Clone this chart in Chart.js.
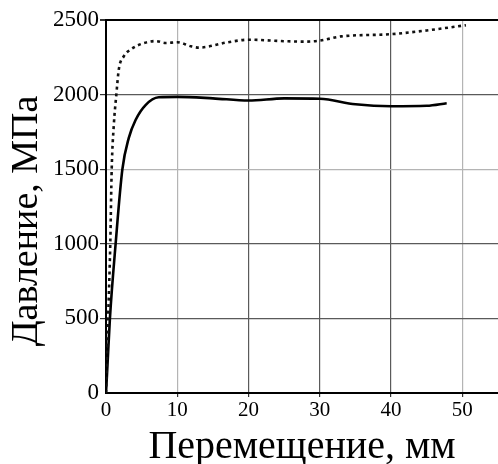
<!DOCTYPE html>
<html>
<head>
<meta charset="utf-8">
<script src="https://cdn.jsdelivr.net/npm/chart.js@4.4.1/dist/chart.umd.min.js"></script>
<style>
    html, body { margin: 0; padding: 0; background: #fff; }
    #wrap { width: 498px; height: 464px; }
</style>
</head>
<body>
<div id="wrap"><canvas id="chart-press"></canvas></div>
<script>
// displacement, mm / pressure, MPa
const solidX = [0, 0.2, 0.55, 1.35, 2.3, 3.2, 4.15, 5.55, 7.4, 10, 15, 20, 25, 30, 35, 40, 45, 47.8];
const solidY = [0, 180, 500, 1000, 1500, 1710, 1830, 1930, 1982, 1985, 1975, 1960, 1975, 1972, 1935, 1922, 1925, 1942];

const dotX = [0, 0.3, 0.6, 0.8, 1.1, 1.45, 1.8, 2.5, 3.45, 5.1, 6.95, 8.35, 10, 11.9, 13, 17, 20, 25, 28, 30, 33, 40, 45, 50.5];
const dotY = [0, 500, 1000, 1500, 1800, 2000, 2170, 2257, 2302, 2342, 2359, 2346, 2351, 2324, 2315, 2350, 2368, 2358, 2355, 2362, 2390, 2405, 2430, 2465];

const xTicks = [0, 10, 20, 30, 40, 50];
const yTicks = [0, 500, 1000, 1500, 2000, 2500];

const yTitle = 'Давление, МПа';
const xTitle = 'Перемещение, мм';

const serif = "'Liberation Serif', 'Times New Roman', serif";

const pairs = (xs, ys) => xs.map((x, i) => ({x: x, y: ys[i]}));

const lightX = [10, 50];
const lightY = [1500];

// y title sits a bit lower than the middle of the axis
const yTitlePlugin = {
    id: 'yTitle',
    afterDraw(chart) {
        const c = chart.ctx;
        c.save();
        c.translate(27, 221);
        c.rotate(-Math.PI / 2);
        c.font = '38px ' + serif;
        c.fillStyle = '#000';
        c.textAlign = 'center';
        c.textBaseline = 'middle';
        c.fillText(yTitle, 0, 0);
        c.restore();
    }
};

const ctx = document.getElementById('chart-press');

new Chart(ctx, {
    type: 'line',
    data: {
        datasets: [{
            data: pairs(dotX, dotY),
            borderColor: '#111',
            borderWidth: 2.6,
            borderDash: [3, 3.6],
            pointRadius: 0,
            cubicInterpolationMode: 'monotone'
        }, {
            data: pairs(solidX, solidY),
            borderColor: '#000',
            borderWidth: 2.6,
            pointRadius: 0,
            cubicInterpolationMode: 'monotone'
        }]
    },

    plugins: [yTitlePlugin],

    options: {
        responsive: true,
        maintainAspectRatio: false,
        animation: false,
        layout: {
            padding: {top: 20, right: 0, bottom: 0, left: 0}
        },
        plugins: {
            legend: { display: false },
            tooltip: { enabled: false }
        },
        scales: {
            x: {
                type: 'linear',
                min: 0,
                max: 55,
                afterFit: (scale) => { scale.height = 71; },
                afterBuildTicks: (scale) => { scale.ticks = xTicks.map(v => ({value: v})); },
                ticks: {
                    color: '#000',
                    padding: 1,
                    maxRotation: 0,
                    callback: (v) => String(v),
                    font: { family: serif, size: 21 }
                },
                grid: {
                    color: (c) => lightX.includes(c.tick && c.tick.value) ? '#b4b4b4' : '#5a5a5a',
                    lineWidth: (c) => (c.tick && c.tick.value === 0) ? 0 : 1.2,
                    tickColor: '#333',
                    tickLength: 4
                },
                border: { color: '#000', width: 2 },
                title: {
                    display: true,
                    text: xTitle,
                    color: '#000',
                    font: { family: serif, size: 40, lineHeight: 0.85 },
                    padding: 0
                }
            },
            y: {
                min: 0,
                max: 2500,
                afterFit: (scale) => { scale.width = 106; },
                afterBuildTicks: (scale) => { scale.ticks = yTicks.map(v => ({value: v})); },
                ticks: {
                    color: '#000',
                    padding: 1,
                    callback: (v) => String(v),
                    font: { family: serif, size: 23 }
                },
                grid: {
                    color: (c) => {
                        const v = c.tick && c.tick.value;
                        if (v === 2500) return '#000';
                        return lightY.includes(v) ? '#b4b4b4' : '#5a5a5a';
                    },
                    lineWidth: (c) => {
                        const v = c.tick && c.tick.value;
                        if (v === 0) return 0;
                        return v === 2500 ? 2 : 1.2;
                    },
                    tickColor: '#333',
                    tickLength: 6
                },
                border: { color: '#000', width: 2 },
                title: { display: false }
            }
        }
    }
});
</script>
</body>
</html>
